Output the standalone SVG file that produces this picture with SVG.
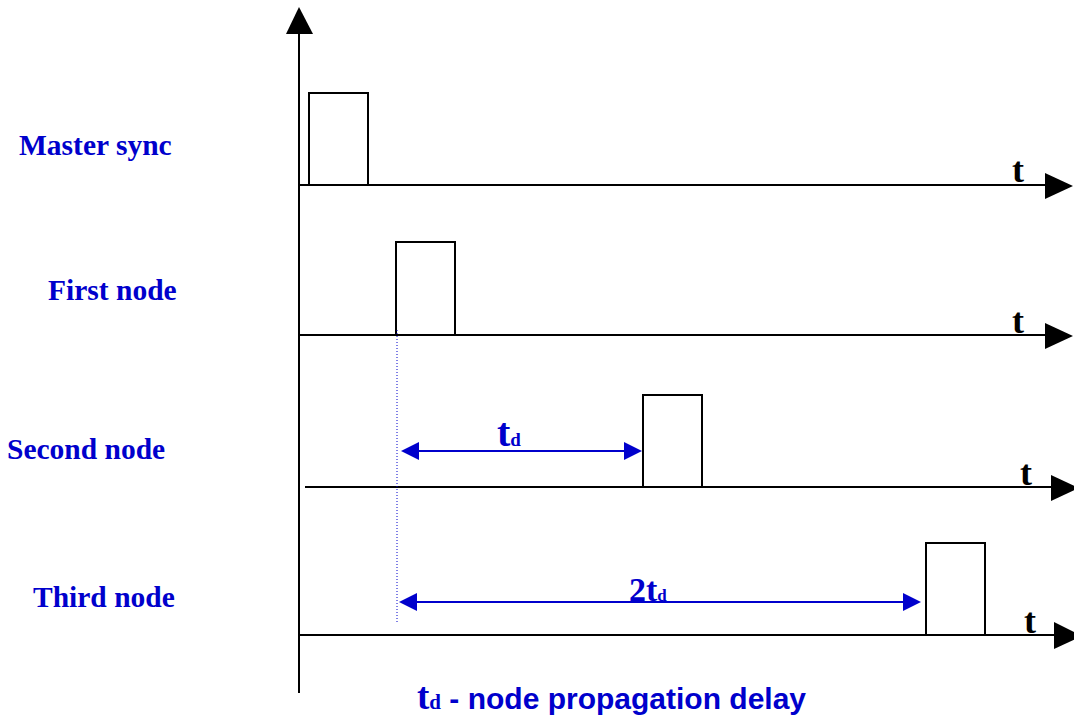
<svg xmlns="http://www.w3.org/2000/svg" width="1074" height="717" viewBox="0 0 1074 717">
  <style>
    .axis { stroke: #000; stroke-width: 2; fill: none; }
    .pulse { stroke: #000; stroke-width: 2; fill: #fff; }
    .head { fill: #000; stroke: none; }
    .lbl { font-family: "Liberation Serif", "Times New Roman", serif; font-weight: bold; fill: #0000CC; font-size: 29.5px; }
    .tt { font-family: "Liberation Serif", "Times New Roman", serif; font-weight: bold; fill: #000; font-size: 36px; }
    .dim { stroke: #0000CC; stroke-width: 2; fill: none; }
    .dimhead { fill: #0000CC; stroke: none; }
    .sym { font-family: "Liberation Serif", "Times New Roman", serif; font-weight: bold; fill: #0000CC; }
    .cap { font-family: "Liberation Sans", Arial, sans-serif; font-weight: bold; fill: #0000CC; font-size: 30px; }
  </style>

  <!-- vertical amplitude axis -->
  <g id="y-axis">
    <line class="axis" x1="299" y1="32" x2="299" y2="693"/>
    <polygon class="head" points="299,7 286,34 313,34"/>
  </g>

  <!-- Master sync trace -->
  <g id="master-sync">
    <text class="lbl" x="19" y="155">Master sync</text>
    <rect class="pulse" x="309" y="93" width="59" height="92"/>
    <line class="axis" x1="299" y1="185" x2="1047" y2="185"/>
    <polygon class="head" points="1045,173 1073,186 1045,199"/>
    <text class="tt" x="1012" y="182">t</text>
  </g>

  <!-- First node trace -->
  <g id="first-node">
    <text class="lbl" x="48" y="300">First node</text>
    <rect class="pulse" x="396" y="242" width="59" height="93"/>
    <line class="axis" x1="299" y1="335" x2="1047" y2="335"/>
    <polygon class="head" points="1045,323 1073,336 1045,349"/>
    <text class="tt" x="1012" y="333">t</text>
  </g>

  <!-- Second node trace -->
  <g id="second-node">
    <text class="lbl" x="7" y="459">Second node</text>
    <rect class="pulse" x="643" y="395" width="59" height="92"/>
    <line class="axis" x1="305" y1="487" x2="1053" y2="487"/>
    <polygon class="head" points="1051,475 1079,488 1051,501"/>
    <text class="tt" x="1020" y="485">t</text>
  </g>

  <!-- Third node trace -->
  <g id="third-node">
    <text class="lbl" x="33" y="607">Third node</text>
    <rect class="pulse" x="926" y="543" width="59" height="92"/>
    <line class="axis" x1="299" y1="635" x2="1056" y2="635"/>
    <polygon class="head" points="1054,622 1082,636 1054,649"/>
    <text class="tt" x="1024" y="633">t</text>
  </g>

  <!-- delay dimension lines -->
  <g id="connectors">
    <line x1="397" y1="330" x2="397" y2="623" stroke="#0000CC" stroke-width="1" stroke-dasharray="1,2"/>
    <line class="dim" x1="412" y1="451" x2="630" y2="451"/>
    <polygon class="dimhead" points="401,451 419,442 419,460"/>
    <polygon class="dimhead" points="642,451 624,442 624,460"/>
    <line class="dim" x1="410" y1="602" x2="910" y2="602"/>
    <polygon class="dimhead" points="399,602 417,593 417,611"/>
    <polygon class="dimhead" points="921,602 903,593 903,611"/>
  </g>

  <g id="delay-labels">
    <text x="497" y="446" class="sym"><tspan font-size="40">t</tspan><tspan font-size="19">d</tspan></text>
    <text x="629" y="601" class="sym"><tspan font-size="34">2t</tspan><tspan font-size="17">d</tspan></text>
  </g>

  <!-- legend -->
  <g id="legend">
    <text x="417" y="709"><tspan class="sym" font-size="37">t</tspan><tspan class="sym" font-size="21">d</tspan><tspan class="cap"> - node propagation delay</tspan></text>
  </g>
</svg>
